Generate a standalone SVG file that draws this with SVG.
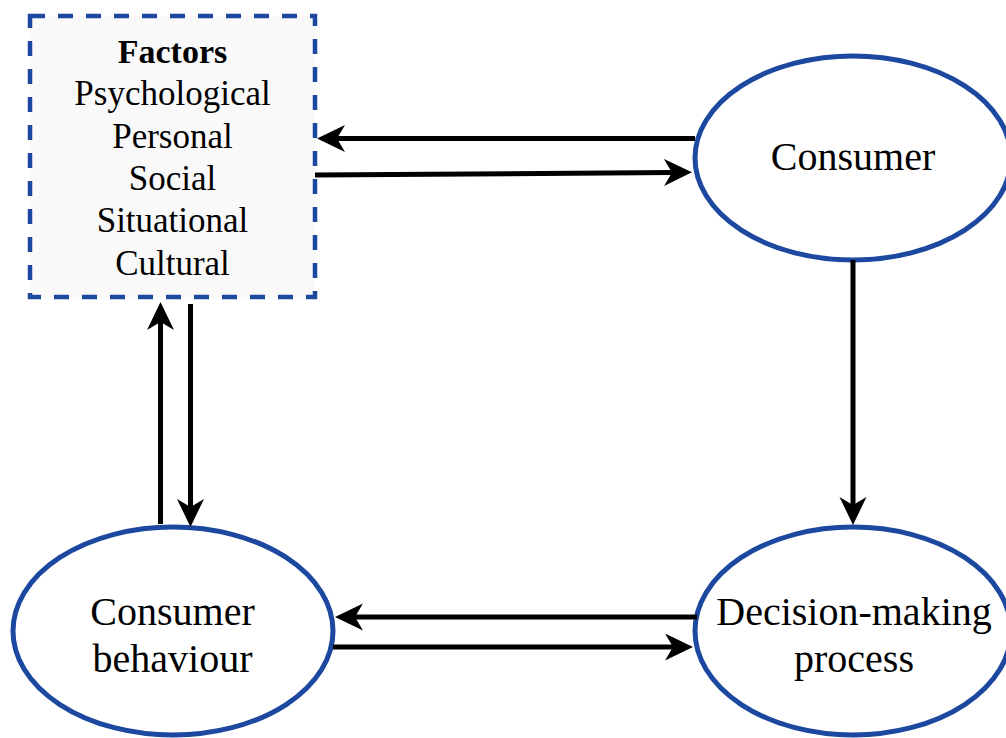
<svg xmlns="http://www.w3.org/2000/svg" width="1006" height="738" viewBox="0 0 1006 738">
<style>
.ell{fill:#ffffff;stroke:#1c48a0;stroke-width:5}
.box{fill:#f9f9f9;stroke:#1c48a0;stroke-width:4.5;stroke-dasharray:15 13}
.t{font-family:"Liberation Serif","Times New Roman",serif;fill:#000;text-anchor:middle}
.conn{stroke:#000;stroke-width:5;fill:none}
</style>
<defs>
<marker id="ah" markerUnits="userSpaceOnUse" markerWidth="30" markerHeight="28" refX="8" refY="13.5" orient="auto" viewBox="0 0 30 28">
<path d="M0,0 L28,13.5 L0,27 L8,13.5 z" fill="#000"/>
</marker>
</defs>
<rect width="1006" height="738" fill="#ffffff"/>
<g id="factors">
<rect class="box" x="30" y="16" width="285" height="281"/>
<text class="t" x="172.5" y="63" font-size="34" font-weight="bold">Factors</text>
<text class="t" x="172.5" y="105" font-size="35">Psychological</text>
<text class="t" x="172.5" y="148" font-size="35">Personal</text>
<text class="t" x="172.5" y="190" font-size="35">Social</text>
<text class="t" x="172.5" y="232" font-size="35">Situational</text>
<text class="t" x="172.5" y="275" font-size="35">Cultural</text>
</g>
<g id="consumer">
<ellipse class="ell" cx="853" cy="158" rx="158" ry="102"/>
<text class="t" x="853" y="170" font-size="40">Consumer</text>
</g>
<g id="decision">
<ellipse class="ell" cx="853" cy="631" rx="158" ry="104"/>
<text class="t" x="854" y="625" font-size="40">Decision-making</text>
<text class="t" x="854" y="672" font-size="40">process</text>
</g>
<g id="behaviour">
<ellipse class="ell" cx="173" cy="631" rx="160" ry="104"/>
<text class="t" x="172.5" y="625" font-size="40">Consumer</text>
<text class="t" x="172.5" y="672" font-size="40">behaviour</text>
</g>
<g id="connectors">
<path class="conn" d="M695,138.5 L337,138.5" marker-end="url(#ah)"/>
<path class="conn" d="M315,175 L672,172.5" marker-end="url(#ah)"/>
<path class="conn" d="M853,260 L853,505" marker-end="url(#ah)"/>
<path class="conn" d="M697,617 L355,617" marker-end="url(#ah)"/>
<path class="conn" d="M333,647 L673,647" marker-end="url(#ah)"/>
<path class="conn" d="M160.5,524 L160.5,322" marker-end="url(#ah)"/>
<path class="conn" d="M190.5,304 L190.5,507" marker-end="url(#ah)"/>
</g>
</svg>
